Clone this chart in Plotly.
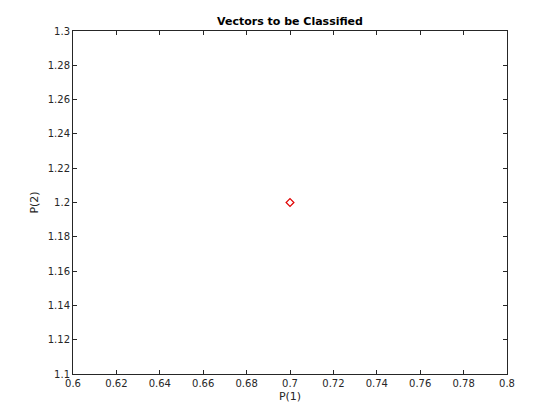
import plotly.graph_objects as go

p1 = [0.7]
p2 = [1.2]
x_ticks = [0.6, 0.62, 0.64, 0.66, 0.68, 0.7, 0.72, 0.74, 0.76, 0.78, 0.8]
y_ticks = [1.1, 1.12, 1.14, 1.16, 1.18, 1.2, 1.22, 1.24, 1.26, 1.28, 1.3]

fig = go.Figure()
fig.add_trace(go.Scatter(
    x=p1, y=p2, mode="markers",
    marker=dict(symbol="diamond-open", size=6, color="#e00000", line=dict(width=1.2, color="#e00000")),
    showlegend=False,
))

axis_common = dict(
    showline=True, linecolor="#262626", linewidth=1, mirror="ticks",
    ticks="inside", ticklen=4, tickcolor="#262626", tickwidth=1,
    showgrid=False, zeroline=False,
    tickfont=dict(family="DejaVu Sans", size=10, color="#262626"),
)
fig.update_xaxes(range=[0.6, 0.8], tickvals=x_ticks, ticktext=[f"{v:g}" for v in x_ticks],
                 title=dict(text="P(1)", font=dict(family="DejaVu Sans", size=11, color="#262626"), standoff=4),
                 **axis_common)
fig.update_yaxes(range=[1.1, 1.3], tickvals=y_ticks, ticktext=[f"{v:g}" for v in y_ticks],
                 title=dict(text="P(2)", font=dict(family="DejaVu Sans", size=11, color="#262626"), standoff=6),
                 **axis_common)
fig.update_layout(
    width=552, height=412,
    margin=dict(l=65, r=53, t=23, b=46, autoexpand=False),
    paper_bgcolor="white", plot_bgcolor="white",
    title=dict(text="<b>Vectors to be Classified</b>", x=0.5, xanchor="center", xref="paper",
               y=1 - 13/412, yanchor="middle",
               font=dict(family="DejaVu Sans", size=11, color="black")),
)
fig.write_html("out.html")
